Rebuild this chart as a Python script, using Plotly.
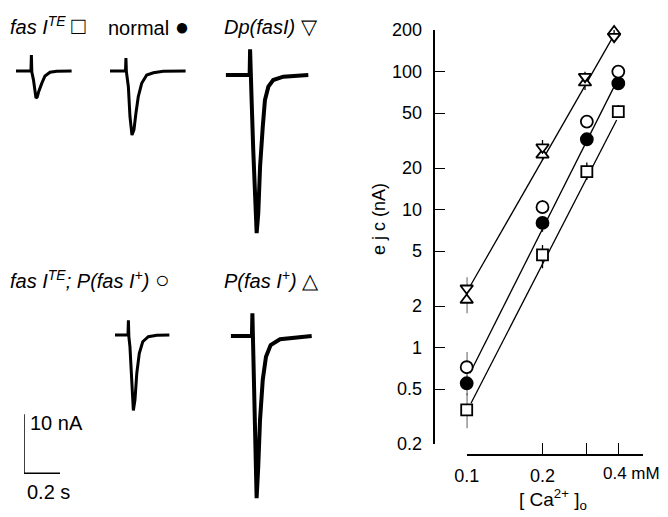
import math
import plotly.graph_objects as go

# the page body has an 8px margin, so the figure is drawn 8px in from the window corner
OFF = 8
W, H = 668 - OFF, 517 - OFF
FONT = "Liberation Sans, Arial, Helvetica, sans-serif"

# ---------------- data: ejc amplitude (nA) vs [Ca2+]o (mM) ----------------
ca = [0.1, 0.2, 0.3, 0.4]
ca_tri = [0.1, 0.2, 0.295, 0.385]

ejc_dp = [2.69, 28.3, 91.8, 179]          # Dp(fasI)  (down triangle)
ejc_dp_up = [0.54, 3.6, 8.0, 30]
ejc_dp_dn = [0.3, 2.5, 6.0, 15]

ejc_pfas = [2.21, 24.9, 83.0, 195]        # P(fas I+) (up triangle)
ejc_pfas_up = [0.3, 2.0, 6.0, 20]
ejc_pfas_dn = [0.44, 2.0, 9.5, 15]

ejc_rescue = [0.72, 10.4, 43.4, 100]      # fas I^TE; P(fas I+) (open circle)
ejc_rescue_up = [0.21, 1.3, 4.0, 8]
ejc_rescue_dn = [0.1, 1.0, 4.0, 8]

ejc_normal = [0.551, 8.0, 32.3, 82]       # normal (filled circle)
ejc_normal_up = [0.08, 0.8, 3.0, 6]
ejc_normal_dn = [0.1, 1.1, 3.0, 6]

ejc_te = [0.353, 4.69, 18.8, 51.2]        # fas I^TE (open square)
ejc_te_up = [0.114, 0.85, 3.1, 6]
ejc_te_dn = [0.093, 0.94, 2.4, 5]

# fitted lines (end points)
fit_x_dp = [0.101, 0.388]
fit_y_dp = [2.6, 189]
fit_x_mid = [0.103, 0.385]
fit_y_mid = [0.652, 77.8]
fit_x_te = [0.104, 0.394]
fit_y_te = [0.395, 44.6]

y_ticks = [0.2, 0.5, 1, 2, 5, 10, 20, 50, 100, 200]
y_ticktext = ["0.2", "0.5", "1", "2", "5", "10", "20", "50", "100", "200"]
x_ticks = [0.1, 0.2]
x_ticktext = ["0.1", "0.2"]
x_minor_ticks = [0.3, 0.4, 0.5]

# ---------------- data: example current traces (time s, current nA) ----------------
tr_te_t = [0, 0.083, 0.0855, 0.088, 0.097, 0.106, 0.111, 0.118, 0.125, 0.143, 0.161, 0.189, 0.226, 0.309]
tr_te_i = [0, 0, 2.7, -0.2, -1.5, -3.9, -4.6, -4.4, -3.6, -2.1, -0.85, -0.22, -0.05, 0]

tr_normal_t = [0, 0.086, 0.0885, 0.091, 0.102, 0.111, 0.122, 0.133, 0.144, 0.157, 0.176, 0.204, 0.241, 0.296, 0.42]
tr_normal_i = [0, 0, 2.2, -0.1, -2.66, -7.75, -10.85, -10.0, -7.17, -4.36, -2.08, -0.68, -0.29, -0.05, 0]

tr_dp_t = [0, 0.133, 0.1355, 0.138, 0.144, 0.153, 0.163, 0.172, 0.181, 0.191, 0.206, 0.218, 0.237, 0.264, 0.32, 0.459]
tr_dp_i = [0, 0, 4.35, -0.5, -4.24, -12.7, -21.2, -26.8, -23.4, -15.5, -8.76, -4.24, -1.98, -0.85, -0.29, 0]

tr_rescue_t = [0, 0.072, 0.0745, 0.077, 0.083, 0.093, 0.102, 0.111, 0.121, 0.135, 0.154, 0.185, 0.232, 0.302]
tr_rescue_i = [0, 0, 2.5, -0.3, -1.98, -7.63, -12.8, -11.0, -6.5, -3.1, -1.14, -0.29, -0.05, 0]

tr_pfas_t = [0, 0.118, 0.1205, 0.123, 0.129, 0.137, 0.144, 0.153, 0.163, 0.178, 0.196, 0.222, 0.274, 0.45]
tr_pfas_i = [0, 0, 3.85, -0.5, -5.76, -15.4, -27.5, -22.2, -14.2, -7.46, -3.5, -1.53, -0.56, 0]

scale_t = [0, 0, 0.2]
scale_i = [10, 0, 0]

# ---------------- figure ----------------
PX_PER_S = 180.0
PX_PER_NA = 5.9


def fx(x):
    """window pixel x -> paper fraction"""
    return (x - OFF) / W


def fy(y):
    """window pixel y -> paper fraction"""
    return 1 - (y - OFF) / H


fig = go.Figure()
layout = dict(
    template="none",
    width=W, height=H, autosize=False,
    margin=dict(l=0, r=0, t=0, b=0, pad=0, autoexpand=False),
    paper_bgcolor="white", plot_bgcolor="rgba(0,0,0,0)",
    showlegend=False,
    font=dict(family=FONT, size=18, color="black"),
)

# main log-log axes
layout["xaxis"] = dict(
    type="log", domain=[fx(466.7), fx(642.7)], range=[-1, math.log10(0.5)],
    anchor="free", position=fy(455), automargin=False,
    showline=True, linecolor="black", linewidth=1.6,
    ticks="inside", ticklen=11, tickwidth=1.4, tickcolor="black",
    tickvals=x_ticks, ticktext=x_ticktext, ticklabelstandoff=5,
    minor=dict(tickvals=x_minor_ticks, ticks="inside", ticklen=11, tickwidth=1.4, tickcolor="black"),
    showgrid=False, zeroline=False,
    tickfont=dict(family=FONT, size=18, color="black"),
)
layout["yaxis"] = dict(
    type="log", domain=[fy(444), fy(30)],
    range=[math.log10(0.2), math.log10(200)],
    anchor="free", position=fx(433.5), automargin=False,
    showline=True, linecolor="black", linewidth=1.8,
    ticks="inside", ticklen=11, tickwidth=1.4, tickcolor="black",
    tickvals=y_ticks, ticktext=y_ticktext, ticklabelstandoff=7,
    showgrid=False, zeroline=False,
    tickfont=dict(family=FONT, size=18, color="black"),
)

# fitted lines
for lx, ly in [(fit_x_dp, fit_y_dp), (fit_x_mid, fit_y_mid), (fit_x_te, fit_y_te)]:
    fig.add_trace(go.Scatter(x=lx, y=ly, mode="lines", line=dict(color="black", width=1.3),
                             xaxis="x", yaxis="y", hoverinfo="skip"))


def series(x, y, up, dn, symbol, fill, size):
    fig.add_trace(go.Scatter(
        x=x, y=y, mode="markers", xaxis="x", yaxis="y", cliponaxis=False,
        marker=dict(symbol=symbol, size=size, color=fill, line=dict(color="black", width=1.8)),
        error_y=dict(type="data", symmetric=False, array=up, arrayminus=dn,
                     width=0, thickness=1.3, color="black"),
    ))


series(ca, ejc_te, ejc_te_up, ejc_te_dn, "square", "white", 11)
series(ca, ejc_normal, ejc_normal_up, ejc_normal_dn, "circle", "black", 12)
series(ca, ejc_rescue, ejc_rescue_up, ejc_rescue_dn, "circle", "white", 12)
series(ca_tri, ejc_pfas, ejc_pfas_up, ejc_pfas_dn, "triangle-up", "white", 11)
series(ca_tri, ejc_dp, ejc_dp_up, ejc_dp_dn, "triangle-down", "white", 11)

# example traces, each in its own hidden axes sharing one scale
panels = [
    (tr_te_t, tr_te_i, 16, 71, 3.0, 30, 175),
    (tr_normal_t, tr_normal_i, 110, 71, 3.0, 30, 175),
    (tr_dp_t, tr_dp_i, 225.7, 75, 4.0, 30, 175),
    (tr_rescue_t, tr_rescue_i, 115, 335, 3.0, 30, 170),
    (tr_pfas_t, tr_pfas_i, 230.7, 336, 4.0, 30, 170),
    (scale_t, scale_i, 24, 473.3, 1.5, 80, 20),
]
for k, (t, i, x0, yb, lw, up, dn) in enumerate(panels, start=2):
    wpx = 100
    layout[f"xaxis{k}"] = dict(domain=[fx(x0), fx(x0 + wpx)], range=[0, wpx / PX_PER_S],
                               visible=False, anchor=f"y{k}", fixedrange=True, automargin=False)
    layout[f"yaxis{k}"] = dict(domain=[fy(yb + dn), fy(yb - up)],
                               range=[-dn / PX_PER_NA, up / PX_PER_NA],
                               visible=False, anchor=f"x{k}", fixedrange=True, automargin=False)
    fig.add_trace(go.Scatter(x=t, y=i, mode="lines", xaxis=f"x{k}", yaxis=f"y{k}",
                             line=dict(color="black", width=lw), hoverinfo="skip"))

anns = []


def ann(text, x, y, size=20, xanchor="left", yanchor="middle", angle=0):
    anns.append(dict(text=text, x=fx(x), y=fy(y), xref="paper", yref="paper", showarrow=False,
                     xanchor=xanchor, yanchor=yanchor, textangle=angle,
                     font=dict(family=FONT, size=size, color="black")))


def sym(ch, size=24):
    return f'<span style="font-size:{size}px">{ch}</span>'


ann("<i>fas I<sup>TE</sup></i> " + sym("□"), 8, 25)
ann("normal " + sym("●"), 106, 27)
ann("<i>Dp(fasI)</i> " + sym("▽", 21), 222, 27)
ann("<i>fas I<sup>TE</sup>; P(fas I<sup>+</sup>)</i> " + sym("○"), 8, 279)
ann("<i>P(fas I<sup>+</sup>)</i> " + sym("△", 21), 222, 279)
ann("10 nA", 28, 423)
ann("0.2 s", 25, 492)
ann("0.4 mM", 601, 473, size=17)
ann("e j c (nA)", 379, 219, size=18, xanchor="center", angle=-90)
ann("[ Ca<sup>2+</sup> ]<sub>o</sub>", 553, 499, size=19, xanchor="center")

layout["annotations"] = anns
fig.update_layout(**layout)
fig.write_html("out.html", config={"displayModeBar": False, "responsive": False})
